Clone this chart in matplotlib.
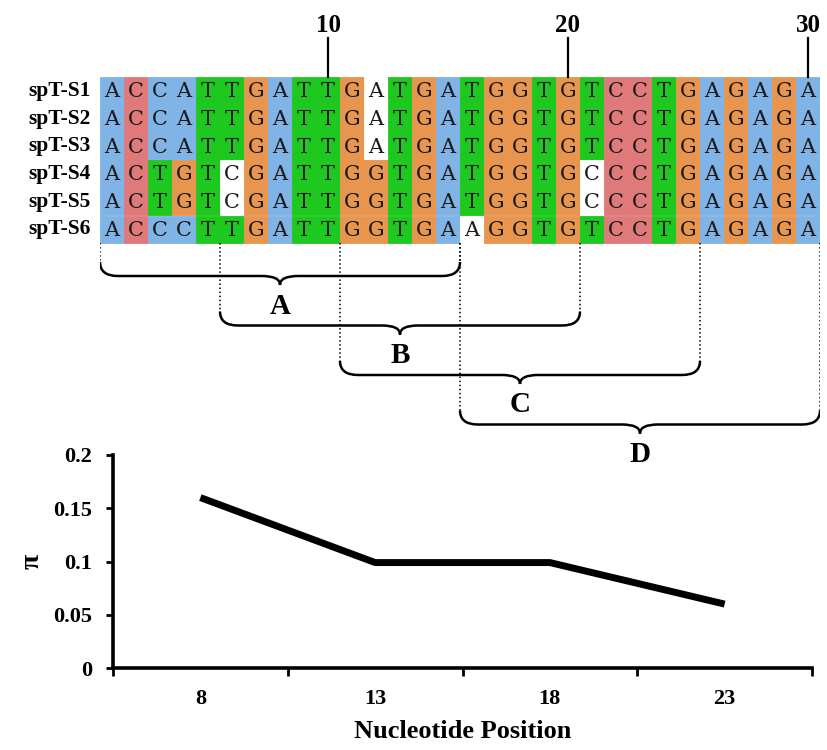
"""
Alignement spT-S1..S6 + diversite nucleotidique (pi) par fenetre glissante
"""

import matplotlib
matplotlib.use("Agg")
import matplotlib.pyplot as plt
from matplotlib.path import Path
from matplotlib.patches import PathPatch, Rectangle

W, H = 827, 750

# donnees
names = ["spT-S1", "spT-S2", "spT-S3", "spT-S4", "spT-S5", "spT-S6"]
seqs = ["ACCATTGATTGATGATGGTGTCCTGAGAGA",
        "ACCATTGATTGATGATGGTGTCCTGAGAGA",
        "ACCATTGATTGATGATGGTGTCCTGAGAGA",
        "ACTGTCGATTGGTGATGGTGCCCTGAGAGA",
        "ACTGTCGATTGGTGATGGTGCCCTGAGAGA",
        "ACCCTTGATTGGTGAAGGTGTCCTGAGAGA"]
# couleur de fond de chaque case (b bleu, r rouge, g vert, o orange, w blanc)
shading = ["brbbggobggowgobgoogogrrgobobob",
           "brbbggobggowgobgoogogrrgobobob",
           "brbbggobggowgobgoogogrrgobobob",
           "brgogwobggoogobgoogowrrgobobob",
           "brgogwobggoogobgoogowrrgobobob",
           "brbbggobggoogobwoogogrrgobobob"]
col_marks = [10, 20, 30]
windows = ["A", "B", "C", "D"]
win_start = [1, 6, 11, 16]
win_end = [15, 20, 25, 30]
positions = ["8", "13", "18", "23"]
pi_values = [0.16, 0.099, 0.099, 0.06]

palette = {"b": "#80b3e6", "r": "#e07a7a", "g": "#1ec81e",
           "o": "#e8964f", "w": "#ffffff"}

fig = plt.figure(figsize=(W / 100, H / 100), dpi=100)

# ---- alignement (x en colonnes, y en pixels) ----
ax = fig.add_axes([100 / W, (H - 470) / H, 720 / W, 470 / H])
ax.set_xlim(0, 30)
ax.set_ylim(470, 0)
ax.axis("off")

y0 = 77      # haut de l'alignement
rh = 27.7    # hauteur d'une ligne

for i, (nm, s, sh) in enumerate(zip(names, seqs, shading)):
    yc = y0 + rh * (i + 0.5)
    for j, (base, c) in enumerate(zip(s, sh)):
        ax.add_patch(Rectangle((j, y0 + rh * i), 1, rh, facecolor=palette[c],
                               edgecolor=palette[c], lw=0.6))
        ax.text(j + 0.5, yc + 1, base, ha="center", va="center",
                fontsize=15, family="DejaVu Serif", color="#1a1a1a")
    ax.text(-0.4, yc, nm, ha="right", va="center", fontsize=15.5,
            fontweight="bold", family="Liberation Serif", clip_on=False)

# reperes 10/20/30
for m in col_marks:
    ax.plot([m - 0.5, m - 0.5], [38, y0], color="black", lw=1.6)
    ax.text(m - 0.5, 25, str(m), ha="center", va="center", fontsize=18,
            fontweight="bold", family="Liberation Serif")

# accolades des fenetres
y_bot = y0 + rh * len(names)
for k, (lab, a, b) in enumerate(zip(windows, win_start, win_end)):
    x0, x1 = a - 1, b
    xm = (x0 + x1) / 2
    yt = 262 + 49.5 * k
    yh = yt + 14
    ytip = yh + 9
    r = 0.75
    for xx in (x0, x1):
        ax.plot([xx, xx], [y_bot, yt], color="black", lw=1.1, ls=":")
    verts = [(x0, yt), (x0, yh), (x0 + r, yh),
             (xm - r, yh),
             (xm, yh), (xm, ytip),
             (xm, yh), (xm + r, yh),
             (x1 - r, yh),
             (x1, yh), (x1, yt)]
    codes = [Path.MOVETO, Path.CURVE3, Path.CURVE3,
             Path.LINETO,
             Path.CURVE3, Path.CURVE3,
             Path.CURVE3, Path.CURVE3,
             Path.LINETO,
             Path.CURVE3, Path.CURVE3]
    ax.add_patch(PathPatch(Path(verts, codes), facecolor="none",
                           edgecolor="black", lw=1.8))
    ax.text(xm, ytip + 21, lab, ha="center", va="center", fontsize=21,
            fontweight="bold", family="Liberation Serif", zorder=5)

# ---- courbe pi ----
ax2 = fig.add_axes([113 / W, (H - 668) / H, 699 / W, 213 / H])
ax2.set_facecolor("none")
xs = list(range(1, len(positions) + 1))
ax2.plot(xs, pi_values, color="black", lw=5, solid_capstyle="butt")
ax2.set_xlim(0.5, len(positions) + 0.5)
ax2.set_ylim(0, 0.2)
for sp in ["top", "right"]:
    ax2.spines[sp].set_visible(False)
for sp in ["left", "bottom"]:
    ax2.spines[sp].set_linewidth(2.6)

ax2.set_xticks([x + 0.5 for x in range(len(positions) + 1)])
ax2.set_xticklabels([])
ax2.set_xticks(xs, minor=True)
ax2.set_xticklabels(positions, minor=True)
ax2.tick_params(axis="x", which="major", direction="out", length=6, width=2)
ax2.tick_params(axis="x", which="minor", length=0, pad=15)
ax2.set_yticks([0, 0.05, 0.1, 0.15, 0.2])
ax2.set_yticklabels(["0", "0.05", "0.1", "0.15", "0.2"])
ax2.tick_params(axis="y", direction="out", length=5, width=2, pad=10)
for t in ax2.get_xticklabels(minor=True) + ax2.get_yticklabels():
    t.set_fontsize(16)
    t.set_fontweight("bold")
    t.set_family("Liberation Serif")

ax2.set_xlabel("Nucleotide Position", fontsize=19, fontweight="bold",
               family="Liberation Serif", labelpad=8)
ax2.set_ylabel("π", fontsize=20, fontweight="bold",
               family="Liberation Serif", labelpad=6)

fig.savefig("out.png", dpi=100)
